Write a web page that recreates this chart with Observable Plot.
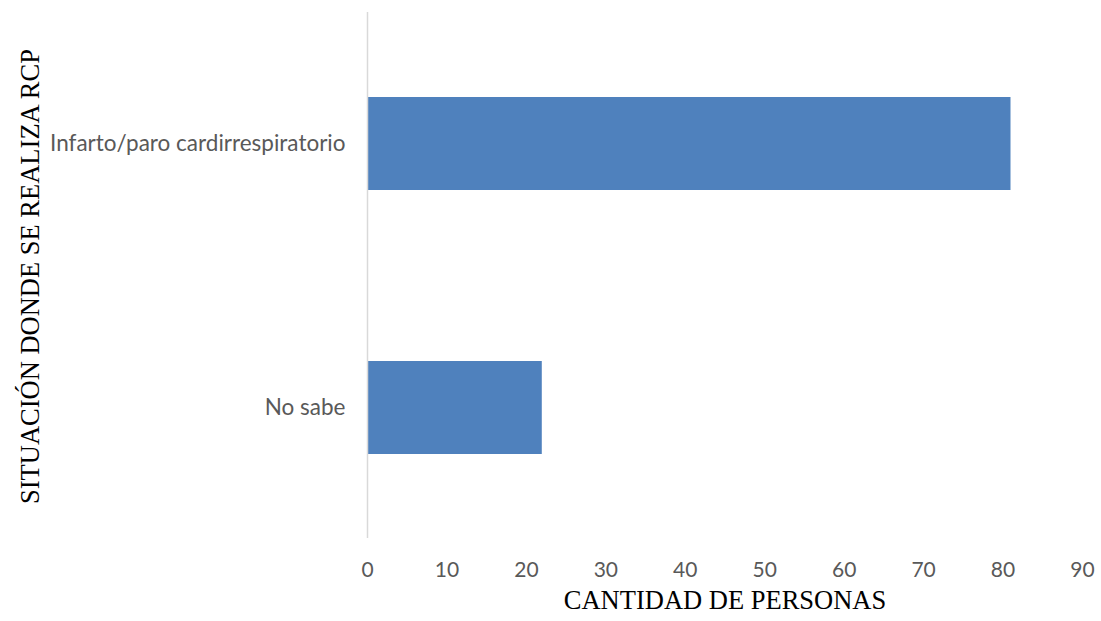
<!DOCTYPE html>
<html>
<head>
<meta charset="utf-8">
<script src="https://cdn.jsdelivr.net/npm/d3@7"></script>
<script src="https://cdn.jsdelivr.net/npm/@observablehq/plot@0.6"></script>
<style>
body { margin: 0; background: #fff; }
</style>
</head>
<body>
<div id="chart"></div>
<script>
const categories = ["Infarto/paro cardirrespiratorio", "No sabe"];
const values = [81, 22];
const xTicks = [0, 10, 20, 30, 40, 50, 60, 70, 80, 90];
const xTitle = "CANTIDAD DE PERSONAS";
const yTitle = "SITUACIÓN DONDE SE REALIZA RCP";

const data = categories.map((c, i) => ({category: c, value: values[i]}));

const chart = Plot.plot({
  width: 1101,
  height: 621,
  marginLeft: 367,
  marginRight: 19,
  marginTop: 12,
  marginBottom: 81,
  style: {fontFamily: "Lato, 'Open Sans', sans-serif", background: "#fff"},
  x: {domain: [0, 90], ticks: xTicks},
  y: {domain: categories, paddingInner: 0.646, paddingOuter: 0.323},
  marks: [
    Plot.barX(data, {x: "value", y: "category", fill: "#4f81bd"}),
    Plot.ruleX([0], {stroke: "#d9d9d9", strokeWidth: 1.5, insetBottom: 2}),
    Plot.axisX({ticks: xTicks, tickSize: 0, tickPadding: 22, fontSize: 21, color: "#595959", label: null}),
    Plot.axisY({tickSize: 0, tickPadding: 22, fontSize: 22.5, color: "#595959", label: null}),
    Plot.text([xTitle], {frameAnchor: "bottom", dy: 68, fontFamily: "'Liberation Serif', 'Times New Roman', serif", fontSize: 26.5, fill: "#000"}),
    Plot.text([yTitle], {frameAnchor: "left", dx: -337, rotate: -90, textAnchor: "middle", fontFamily: "'Liberation Serif', 'Times New Roman', serif", fontSize: 26.5, fill: "#000"})
  ]
});
document.getElementById("chart").appendChild(chart);
</script>
</body>
</html>
